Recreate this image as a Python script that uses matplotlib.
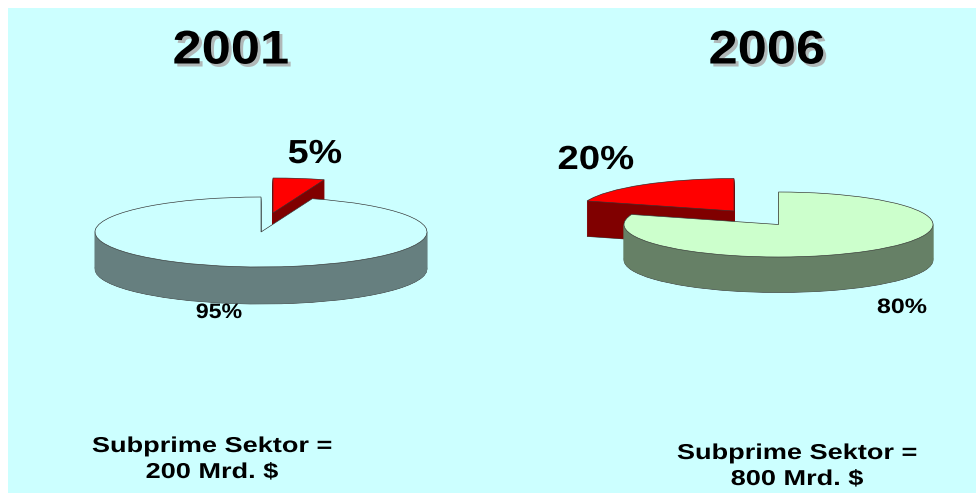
import matplotlib
matplotlib.use("Agg")
import matplotlib.pyplot as plt
from matplotlib.colors import to_rgba
from matplotlib.patches import Rectangle
from matplotlib.patheffects import AbstractPathEffect
from matplotlib.transforms import Affine2D

plt.rcParams['font.family'] = ['Liberation Sans', 'DejaVu Sans']

W, H = 976, 493

years = ["2001", "2006"]
subprime_2001 = [5]
other_2001 = [95]
subprime_2006 = [20]
other_2006 = [80]
captions = ["Subprime Sektor =\n200 Mrd. $", "Subprime Sektor =\n800 Mrd. $"]
small_labels = ["95%", "80%"]
big_labels = ["5%", "20%"]

BG = "#CCFFFF"
RED, RED_SIDE = "#FF0000", "#800000"
TOP_L, SIDE_L = "#CCFFFF", "#667F7F"
TOP_R, SIDE_R = "#CCFFCC", "#668066"
EDGE = "#333333"


class Stretch(AbstractPathEffect):
    """Widen glyphs about their anchor (the source lettering is horizontally stretched)."""
    def __init__(self, cx, sx, shadow=None):
        super().__init__()
        self.cx, self.sx, self.shadow = cx, sx, shadow

    def draw_path(self, renderer, gc, tpath, affine, rgbFace=None):
        t = affine + Affine2D().translate(-self.cx, 0).scale(self.sx, 1).translate(self.cx, 0)
        if self.shadow:
            renderer.draw_path(gc, tpath, t + Affine2D().translate(3, -3), to_rgba("#B0B8B8"))
        renderer.draw_path(gc, tpath, t, rgbFace)


fig = plt.figure(figsize=(W / 100, H / 100), dpi=100, facecolor="white")
base = fig.add_axes([0, 0, 1, 1], zorder=0)
base.set_xlim(0, W)
base.set_ylim(H, 0)
base.axis("off")
base.add_patch(Rectangle((8, 8), W - 8, H - 8, facecolor=BG, edgecolor="none"))


def pie_axes(cx, cy, rx, ry, z):
    L = 3.0
    ax = fig.add_axes([(cx - 1.25 * rx) / W, 1 - (cy + L * ry) / H, 2.5 * rx / W, 2 * L * ry / H], zorder=z)
    ax.patch.set_alpha(0)
    ax._L = L
    return ax


def solid(ax, values, idx, top, side, depth, center=(0, 0), start=90):
    """Extrude slice idx of a pie by stacking copies of it downwards."""
    steps = int(depth * 2)
    for k in range(steps, -1, -1):
        cy = center[1] - depth / ax._ry * k / steps
        is_bottom = k == steps
        is_top = k == 0
        wedges, _ = ax.pie(values, startangle=start, counterclock=False, center=(center[0], cy),
                           radius=1, colors=[top if is_top else side] * len(values),
                           wedgeprops=dict(linewidth=0.45 if (is_top or is_bottom) else 0.3,
                                           edgecolor=EDGE if (is_top or is_bottom) else side))
        for j, w in enumerate(wedges):
            w.set_visible(j == idx)
            w.set_clip_on(False)


def finish(ax):
    ax.set_aspect("auto")
    ax.set_xlim(-1.25, 1.25)
    ax.set_ylim(-ax._L, ax._L)
    ax.axis("off")


# 2001
ax1 = pie_axes(261, 232, 166, 35, 2)
ax1._ry = 35
vals1 = subprime_2001 + other_2001
solid(ax1, vals1, 0, RED, RED_SIDE, 37, center=(12 / 166, 19 / 35))
solid(ax1, vals1, 1, TOP_L, SIDE_L, 37)
finish(ax1)

# 2006
ax2 = pie_axes(778.5, 224.5, 154.5, 32.5, 2)
ax2._ry = 32.5
vals2 = other_2006 + subprime_2006
solid(ax2, vals2, 1, RED, RED_SIDE, 35.5, center=(-44.5 / 154.5, 13.5 / 32.5))
solid(ax2, vals2, 0, TOP_R, SIDE_R, 35.5)
finish(ax2)

top = fig.add_axes([0, 0, 1, 1], zorder=5)
top.set_xlim(0, W)
top.set_ylim(H, 0)
top.axis("off")
top.patch.set_alpha(0)


def label(x, y, s, size, sx, shadow=False, **kw):
    t = top.text(x, y, s, fontsize=size, fontweight="bold", ha="center", va="baseline",
                 color="black", **kw)
    t.set_path_effects([Stretch(x, sx, shadow)])
    return t


label(231, 63.5, years[0], 34, 1.11, shadow=True)
label(767, 63.5, years[1], 34, 1.11, shadow=True)
label(315, 163, big_labels[0], 24, 1.13)
label(596, 169, big_labels[1], 24, 1.15)
label(219, 318, small_labels[0], 15, 1.11)
label(902, 313, small_labels[1], 15, 1.2)

for x, y, cap in zip([212, 797], [452, 459], captions):
    first, second = cap.split("\n")
    label(x, y, first, 15.5, 1.26)
    label(x, y + 26, second, 15.5, 1.26)

fig.savefig("out.png", dpi=100)
